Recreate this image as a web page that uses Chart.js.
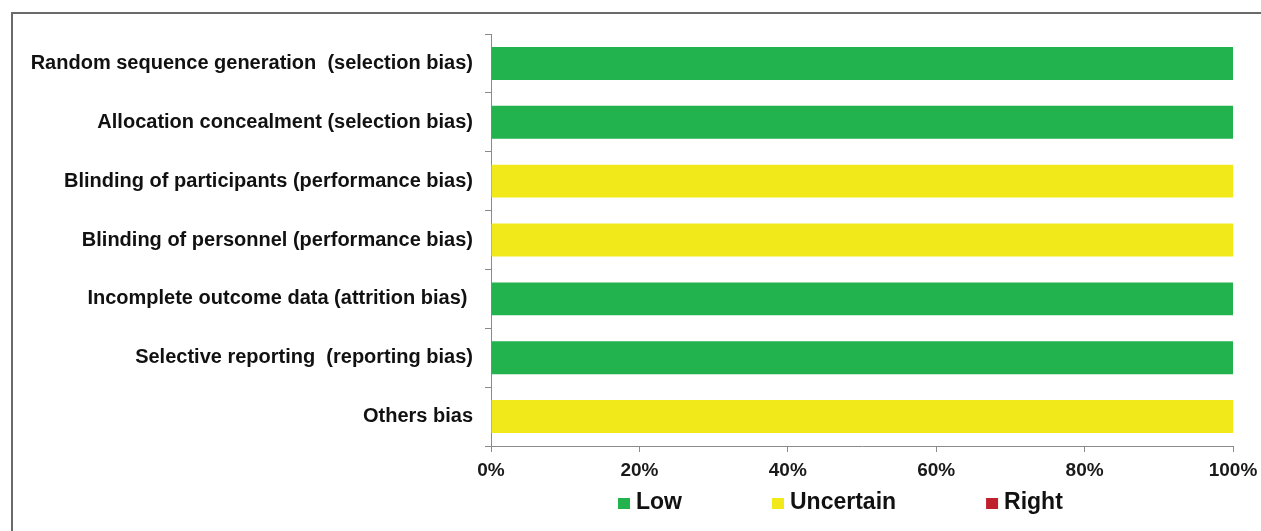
<!DOCTYPE html>
<html>
<head>
<meta charset="utf-8">
<script src="https://cdn.jsdelivr.net/npm/chart.js@4"></script>
<style>
  html, body { margin: 0; padding: 0; background: #fff; overflow: hidden; }
  #frame {
    position: absolute; left: 11px; top: 12px; width: 1400px; height: 700px;
    border-left: 2px solid #6a6a6a; border-top: 2px solid #6a6a6a;
  }
  #wrap { position: absolute; left: 0; top: 0; width: 1261px; height: 531px; }
</style>
</head>
<body>
<div id="frame"></div>
<div id="wrap"><canvas id="chart"></canvas></div>
<script>
// ---- data ----
const categories = [
  'Random sequence generation  (selection bias)',
  'Allocation concealment (selection bias)',
  'Blinding of participants (performance bias)',
  'Blinding of personnel (performance bias)',
  'Incomplete outcome data (attrition bias) ',
  'Selective reporting  (reporting bias)',
  'Others bias'
];
const seriesNames = ['Low', 'Uncertain', 'Right'];
const lowValues = [100, 100, 0, 0, 100, 100, 0];
const uncertainValues = [0, 0, 100, 100, 0, 0, 100];
const rightValues = [0, 0, 0, 0, 0, 0, 0];
const xTickLabels = ['0%', '20%', '40%', '60%', '80%', '100%'];

const FONT = '"Liberation Sans", Arial, sans-serif';
const colors = ['#22b24e', '#f1e91a', '#c0202b'];

// simple legend under the axis, drawn from the datasets
const bottomLegend = {
  id: 'bottomLegend',
  afterDraw(chart) {
    const ctx = chart.ctx;
    const area = chart.chartArea;
    let x = area.left + 127;
    const base = area.bottom + 63;
    ctx.save();
    ctx.font = 'bold 23px ' + FONT;
    ctx.textBaseline = 'alphabetic';
    ctx.textAlign = 'left';
    chart.data.datasets.forEach(ds => {
      ctx.fillStyle = ds.backgroundColor;
      ctx.fillRect(x, base - 11, 12, 11);
      x += 18;
      ctx.fillStyle = '#111';
      ctx.fillText(ds.label, x, base);
      x += ctx.measureText(ds.label).width + 90;
    });
    ctx.restore();
  }
};

new Chart(document.getElementById('chart'), {
  type: 'bar',
  data: {
    labels: categories,
    datasets: [
      { label: seriesNames[0], data: lowValues, backgroundColor: colors[0] },
      { label: seriesNames[1], data: uncertainValues, backgroundColor: colors[1] },
      { label: seriesNames[2], data: rightValues, backgroundColor: colors[2] }
    ]
  },
  options: {
    indexAxis: 'y',
    responsive: true,
    maintainAspectRatio: false,
    animation: false,
    datasets: { bar: { categoryPercentage: 1, barPercentage: 0.56 } },
    layout: { padding: { top: 34, right: 28, bottom: 48, left: 0 } },
    plugins: {
      legend: { display: false },
      tooltip: { enabled: false }
    },
    scales: {
      x: {
        stacked: true,
        min: 0,
        max: 100,
        grid: { drawOnChartArea: false, drawTicks: true, tickLength: 6, color: '#8a8a8a' },
        border: { display: true, color: '#8a8a8a', width: 1 },
        ticks: {
          stepSize: 20,
          padding: 7,
          color: '#1a1a1a',
          font: { family: FONT, size: 19, weight: 'bold' },
          callback: (v, i) => xTickLabels[i]
        },
        afterFit(s) { s.height = 37; s.paddingLeft = 0; s.paddingRight = 0; }
      },
      y: {
        stacked: true,
        grid: { drawOnChartArea: false, drawTicks: true, tickLength: 6, color: '#8a8a8a', offset: true },
        border: { display: true, color: '#8a8a8a', width: 1 },
        ticks: {
          padding: 12,
          color: '#111',
          font: { family: FONT, size: 20, weight: 'bold' }
        },
        afterFit(s) { s.width = 491; }
      }
    }
  },
  plugins: [bottomLegend]
});
</script>
</body>
</html>
